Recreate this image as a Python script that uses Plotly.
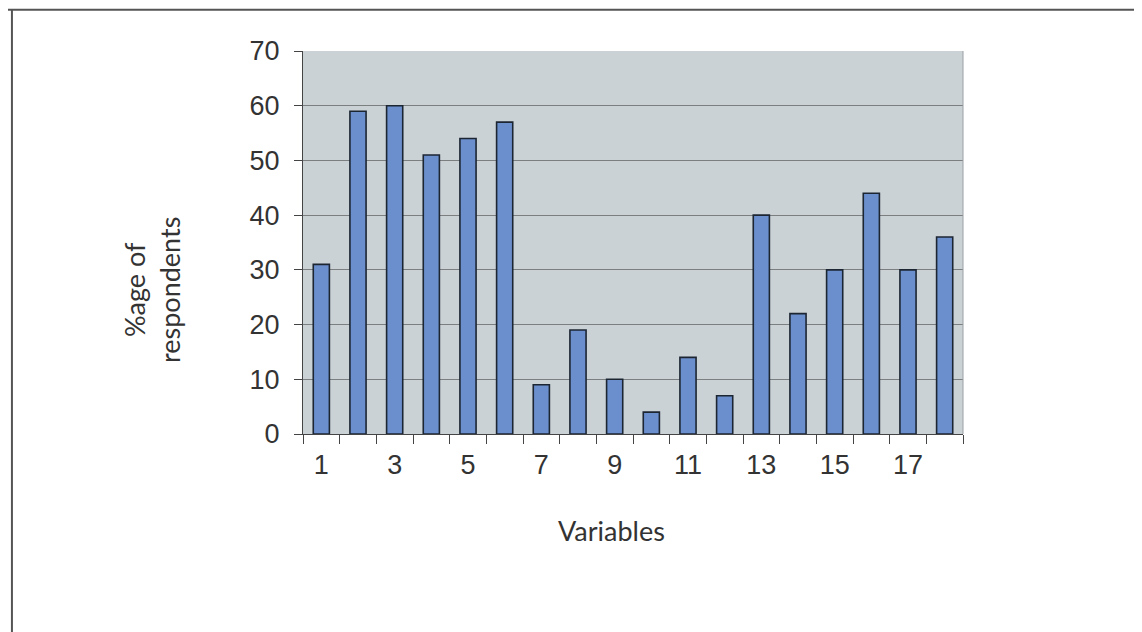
import plotly.graph_objects as go

variables = list(range(1, 19))
percent_respondents = [31, 59, 60, 51, 54, 57, 9, 19, 10, 4, 14, 7, 40, 22, 30, 44, 30, 36]
x_tick_values = [1, 3, 5, 7, 9, 11, 13, 15, 17]
x_tick_labels = ["1", "3", "5", "7", "9", "11", "13", "15", "17"]
y_tick_values = [0, 10, 20, 30, 40, 50, 60, 70]

TICK_FONT = "Liberation Sans, Arial, sans-serif"
TITLE_FONT = "Lato, Liberation Sans, sans-serif"

fig = go.Figure(
    go.Bar(
        x=variables,
        y=percent_respondents,
        width=0.44,
        marker=dict(color="#6b8fcc", line=dict(color="#1c2633", width=1.6)),
    )
)

fig.update_layout(
    width=1142,
    height=632,
    margin=dict(l=295, r=187, t=43, b=206),
    paper_bgcolor="white",
    plot_bgcolor="#cbd2d6",
    showlegend=False,
    font=dict(family=TICK_FONT, size=27, color="#333333"),
    xaxis=dict(
        range=[0.5, 18.5],
        tickmode="array",
        tickvals=x_tick_values,
        ticktext=x_tick_labels,
        ticks="",
        showgrid=False,
        zeroline=False,
        showline=True,
        linecolor="#444444",
        linewidth=1.2,
        ticklabelstandoff=6,
        tickfont=dict(family=TICK_FONT, size=27, color="#333333"),
        minor=dict(tick0=0.5, dtick=1, ticks="outside", ticklen=9,
                   tickcolor="#444444", tickwidth=1.2, showgrid=False),
    ),
    yaxis=dict(
        range=[0, 70],
        tickmode="array",
        tickvals=y_tick_values,
        ticks="outside",
        ticklen=8,
        tickcolor="#444444",
        tickwidth=1.2,
        showgrid=True,
        gridcolor="#7c7f80",
        gridwidth=1.2,
        zeroline=False,
        showline=True,
        linecolor="#444444",
        linewidth=1.2,
        ticklabelstandoff=9,
        tickfont=dict(family=TICK_FONT, size=27, color="#333333"),
    ),
    annotations=[
        dict(text="%age of<br>respondents", xref="paper", yref="paper",
             x=-0.2288, y=0.376, textangle=-90, showarrow=False,
             font=dict(family=TITLE_FONT, size=27, color="#333333"),
             xanchor="center", yanchor="middle"),
        dict(text="Variables", xref="paper", yref="paper",
             x=0.4667, y=-0.2507, showarrow=False,
             font=dict(family=TITLE_FONT, size=27, color="#333333"),
             xanchor="center", yanchor="middle"),
    ],
    shapes=[
        dict(type="line", xref="paper", yref="paper", x0=1, x1=1, y0=0, y1=1,
             line=dict(color="#9aa0a3", width=1)),
        dict(type="line", xref="paper", yref="paper", x0=-0.46, x1=1.3,
             y0=1.108, y1=1.108, line=dict(color="#555555", width=2)),
        dict(type="line", xref="paper", yref="paper", x0=-0.441, x1=-0.441,
             y0=1.108, y1=-0.6, line=dict(color="#555555", width=2)),
    ],
)

fig.write_html("out.html")
